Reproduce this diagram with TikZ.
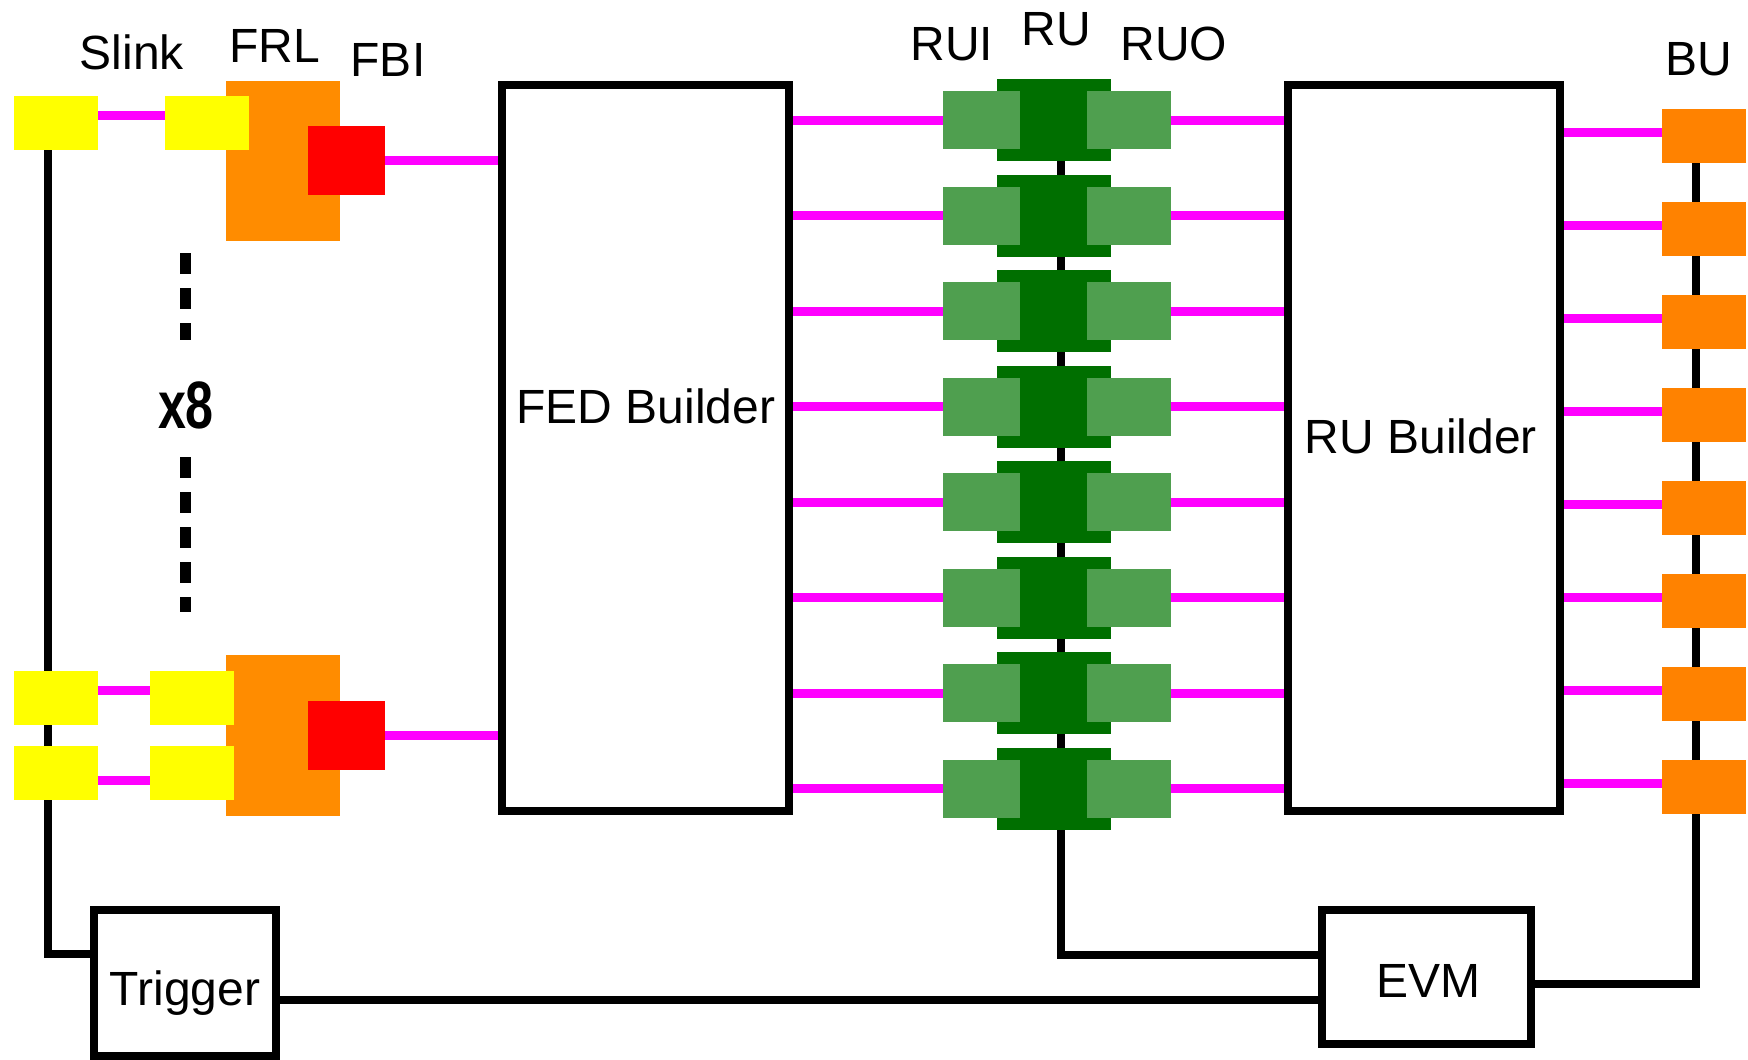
\documentclass[tikz,border=0pt]{standalone}
\usepackage{fontspec}
\setmainfont{Liberation Sans}
\usetikzlibrary{backgrounds}
\definecolor{slinkyellow}{RGB}{255,255,0}
\definecolor{frlorange}{RGB}{255,140,0}
\definecolor{buorange}{RGB}{255,130,0}
\definecolor{fbired}{RGB}{255,0,0}
\definecolor{linkpink}{RGB}{255,0,255}
\definecolor{rudark}{RGB}{0,111,0}
\definecolor{rulight}{RGB}{79,159,79}

\begin{document}
\begin{tikzpicture}[x=1pt,y=-1pt,
        every node/.style={font=\fontsize{48}{58}\selectfont},
        blk/.style={fill=#1, inner sep=0pt},
        box/.style={draw, line width=8pt, fill=white, inner sep=0pt},
        txt/.style={anchor=base, inner sep=0pt},
        link/.style={linkpink, line width=9pt},
        wire/.style={line width=8pt},
        elide/.style={line width=11pt, dash pattern=on 21pt off 14pt}]
        \useasboundingbox (0,0) rectangle (1748,1060);

        \node[box, minimum width=287pt, minimum height=726pt] (fed) at (645.5,448) {};
        \node[box, minimum width=272pt, minimum height=726pt] (rub) at (1424,448) {};
        \node[box, minimum width=182pt, minimum height=146pt] (trig) at (185,983) {};
        \node[box, minimum width=209pt, minimum height=134pt] (evm) at (1426.5,977) {};

        \node[blk=frlorange, minimum width=114pt, minimum height=160pt] (frl1) at (283,161) {};
        \node[blk=frlorange, minimum width=114pt, minimum height=161pt] (frl2) at (283,735.5) {};
        \node[blk=slinkyellow, minimum width=84pt, minimum height=54pt] (slk1) at (56,123) {};
        \node[blk=slinkyellow, minimum width=84pt, minimum height=54pt] (slf1) at (207,123) {};
        \node[blk=slinkyellow, minimum width=84pt, minimum height=54pt] (slk2) at (56,698) {};
        \node[blk=slinkyellow, minimum width=84pt, minimum height=54pt] (slf2) at (192,698) {};
        \node[blk=slinkyellow, minimum width=84pt, minimum height=54pt] (slk3) at (56,773) {};
        \node[blk=slinkyellow, minimum width=84pt, minimum height=54pt] (slf3) at (192,773) {};
        \node[blk=fbired, minimum width=77pt, minimum height=69pt] (fbi1) at (346.5,160.5) {};
        \node[blk=fbired, minimum width=77pt, minimum height=69pt] (fbi2) at (346.5,735.5) {};

        \draw[link] ([yshift=8pt]slk1.east) -- ([yshift=8pt]slf1.west);
        \draw[link] ([yshift=8pt]slk2.east) -- ([yshift=8pt]slf2.west);
        \draw[link] ([yshift=-7pt]slk3.east) -- ([yshift=-7pt]slf3.west);
        \draw[link] (fbi1.east) -- (fbi1.east -| fed.west);
        \draw[link] (fbi2.east) -- (fbi2.east -| fed.west);

        \foreach \i [evaluate=\i as \y using 120+95.5*(\i-1),
                     evaluate=\i as \by using 136+93*(\i-1)] in {1,...,8} {
            \node[blk=rudark, minimum width=114pt, minimum height=82pt] (ru\i) at (1054,\y) {};
            \node[blk=rulight, minimum width=77pt, minimum height=58pt] (rui\i) at (981.5,\y) {};
            \node[blk=rulight, minimum width=84pt, minimum height=58pt] (ruo\i) at (1129,\y) {};
            \node[blk=buorange, minimum width=84pt, minimum height=54pt] (bu\i) at (1704,\by) {};
            \draw[link] (rui\i.west -| fed.east) -- (rui\i.west);
            \draw[link] (ruo\i.east) -- (ruo\i.east -| rub.west);
            \draw[link] ([yshift=4pt]bu\i.west -| rub.east) -- ([yshift=4pt]bu\i.west);
        }

        \begin{scope}[on background layer]
            \draw[wire] ([xshift=-8pt]slk1.center) |- ([yshift=29pt]trig.west);
            \draw[wire] ([xshift=7pt]ru1.center) |- ([yshift=22pt]evm.west);
            \draw[wire] ([xshift=-8pt]bu1.center) |- ([yshift=-7pt]evm.east);
            \draw[wire] ([yshift=-17pt]trig.east) -- ([yshift=-17pt]trig.east -| evm.west);
        \end{scope}

        \draw[elide] (185,253) -- (185,340) (185,457) -- (185,612);
        \node[txt, font=\fontsize{67}{70}\selectfont\bfseries, xscale=0.75] (mult) at (186,428) {x8};

        \node[txt] (slinklbl) at (132,69) {Slink};
        \node[txt] (frllbl) at (275,62) {FRL};
        \node[txt] (fbilbl) at (388,76) {FBI};
        \node[txt] (ruilbl) at (952,60) {RUI};
        \node[txt] (rulbl) at (1056,45) {RU};
        \node[txt] (ruolbl) at (1174,60) {RUO};
        \node[txt] (bulbl) at (1699,75) {BU};
        \node[txt] (fedlbl) at (646,423) {FED Builder};
        \node[txt] (rublbl) at (1421,453) {RU Builder};
        \node[txt] (triglbl) at (185,1005) {Trigger};
        \node[txt] (evmlbl) at (1428,997) {EVM};
\end{tikzpicture}
\end{document}
